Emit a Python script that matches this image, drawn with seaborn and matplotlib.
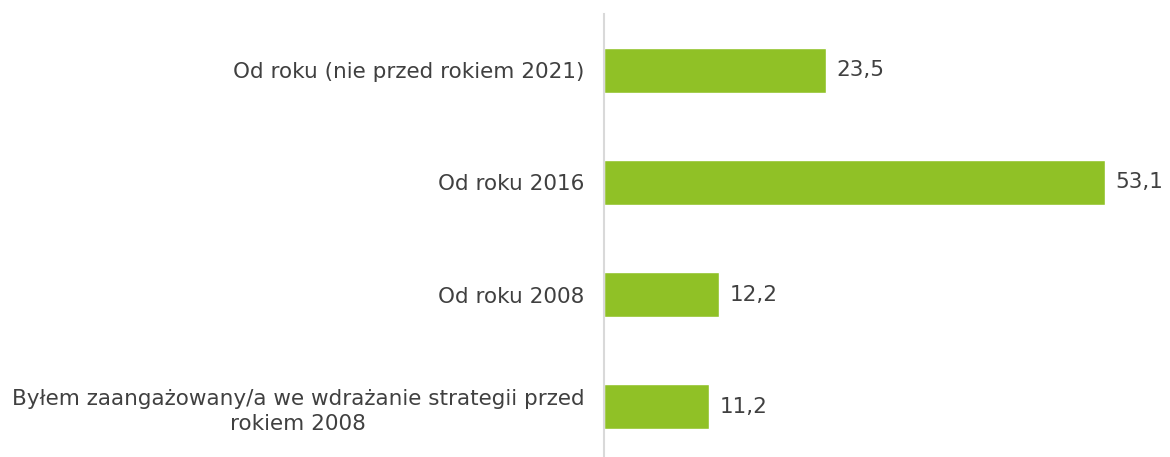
import matplotlib.pyplot as plt
import pandas as pd
import seaborn as sns

# data
categories = ['Od roku (nie przed rokiem 2021)', 'Od roku 2016', 'Od roku 2008',
              'Byłem zaangażowany/a we wdrażanie strategii przed\nrokiem 2008']
values = [23.5, 53.1, 12.2, 11.2]
value_labels = ['23,5', '53,1', '12,2', '11,2']

frame = pd.DataFrame({'cat': categories, 'val': values})

sns.set_style('white')
plt.rcParams['font.family'] = ['DejaVu Sans']

fig = plt.figure(figsize=(11.7, 4.57), dpi=100)
ax = fig.add_axes([0.516, -0.013, 0.452, 0.982])
sns.barplot(data=frame, x='val', y='cat', orient='h', color='#90C126',
            saturation=1, width=0.4, ax=ax)

for i, lab in enumerate(value_labels):
    ax.text(values[i] + 1.1, i, lab, va='center', ha='left', fontsize=15.5, color='#404040')

ax.set_xlim(0, 56)
ax.set_ylim(3.5, -0.5)
ax.set_xlabel('')
ax.set_ylabel('')
ax.set_xticks([])
for s in ['top', 'right', 'bottom']:
    ax.spines[s].set_visible(False)
ax.spines['left'].set_color('#D9D9D9')
ax.spines['left'].set_linewidth(1.5)
ax.tick_params(axis='y', length=0, pad=14, labelsize=15.5, labelcolor='#404040')
for t in ax.get_yticklabels():
    t.set_multialignment('center')
    t.set_linespacing(1.35)

fig.savefig('out.png', dpi=100)
